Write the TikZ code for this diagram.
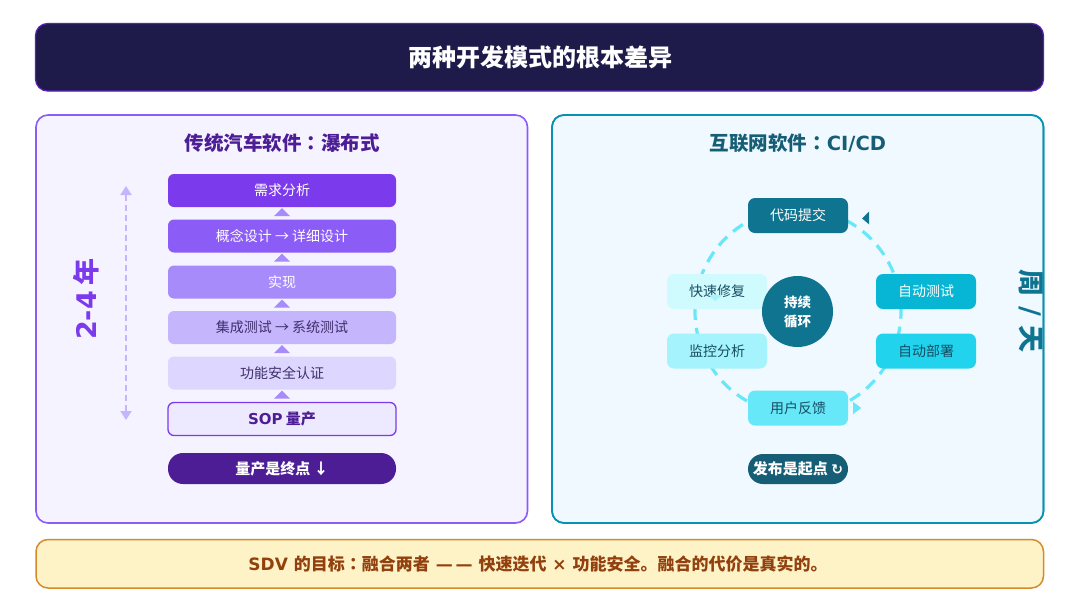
\documentclass[tikz,border=0pt]{standalone}
\usepackage{fontspec}
\setmainfont{Noto Sans CJK SC}
\newfontfamily\symfont{DejaVu Sans}
\newfontfamily\lat{DejaVu Sans}
\newfontfamily\jpfont{Noto Sans CJK JP}
\usetikzlibrary{arrows.meta,positioning}

\definecolor{navy}{HTML}{1E1B4B}
\definecolor{navyline}{HTML}{5B21B6}
\definecolor{vio1}{HTML}{7C3AED}
\definecolor{vio2}{HTML}{8B5CF6}
\definecolor{vio3}{HTML}{A78BFA}
\definecolor{vio4}{HTML}{C4B5FD}
\definecolor{vio5}{HTML}{DDD6FE}
\definecolor{vio6}{HTML}{EDE9FE}
\definecolor{viodark}{HTML}{4C1D95}
\definecolor{viotext}{HTML}{3F2F6B}
\definecolor{lavbg}{HTML}{F5F3FF}
\definecolor{skybg}{HTML}{F0F9FF}
\definecolor{tealline}{HTML}{0891B2}
\definecolor{teal1}{HTML}{0E7490}
\definecolor{teal2}{HTML}{06B6D4}
\definecolor{teal3}{HTML}{22D3EE}
\definecolor{teal4}{HTML}{67E8F9}
\definecolor{teal5}{HTML}{A5F3FC}
\definecolor{teal6}{HTML}{CFFAFE}
\definecolor{tealdark}{HTML}{155E75}
\definecolor{tealtext}{HTML}{164E63}
\definecolor{amberbg}{HTML}{FEF3C7}
\definecolor{amberline}{HTML}{D58B2C}
\definecolor{ambertext}{HTML}{92400E}

\begin{document}
\begin{tikzpicture}[x=1pt,y=-1pt,
    panel/.style={rounded corners=12pt, line width=1.6pt},
    wfbox/.style={rounded corners=6pt, minimum width=228pt, minimum height=33pt, inner sep=0pt, font=\fontsize{14}{16}\selectfont},
    cdbox/.style={rounded corners=7pt, minimum width=100pt, minimum height=35pt, inner sep=0pt, font=\fontsize{14}{16}\selectfont, text=tealtext},
    pill/.style={rounded corners=15pt, minimum width=228pt, minimum height=31pt, inner sep=0pt, text=white, font=\bfseries\fontsize{15}{17}\selectfont},
    uptri/.style={fill=vio3},
    ring/.style={teal4, line width=3.2pt, dash pattern=on 12pt off 8pt}
  ]
  \useasboundingbox (0,0) rectangle (1080,600);
  \fill[white] (0,0) rectangle (1080,600);

  % title bar
  \draw[rounded corners=12pt, fill=navy, draw=navyline, line width=1.2pt] (35.5,23.5) rectangle (1043.5,91);
  \node[text=white, font=\bfseries\fontsize{24}{26}\selectfont] (title) at (540,57) {两种开发模式的根本差异};

  % left panel: waterfall
  \draw[panel, fill=lavbg, draw=vio2] (36,115) rectangle (527.5,523);
  \node[text=viodark, font=\bfseries\fontsize{19.5}{21}\selectfont] (ltitle) at (282,143) {传统汽车软件{\jpfont ：}瀑布式};

  \node[wfbox, fill=vio1, text=white] (req) at (282,190.5) {需求分析};
  \node[wfbox, fill=vio2, text=white] (design) at (282,236) {概念设计 → 详细设计};
  \node[wfbox, fill=vio3, text=white] (impl) at (282,282) {实现};
  \node[wfbox, fill=vio4, text=viotext] (test) at (282,327.5) {集成测试 → 系统测试};
  \node[wfbox, fill=vio5, text=viotext] (safety) at (282,373) {功能安全认证};
  \node[wfbox, fill=vio6, draw=vio1, line width=1.3pt, text=viodark, font=\bfseries\fontsize{15}{17}\selectfont] (sop) at (282,419) {{\lat SOP} 量产};
  \node[pill, fill=viodark] (endpt) at (282,468.5) {量产是终点 ↓};

  % little up arrows between stages
  \foreach \a/\b in {req/design, design/impl, impl/test, test/safety, safety/sop}
    \fill[uptri] ([xshift=-8pt,yshift=-9pt]\a.south) -- ([yshift=-1pt]\a.south) -- ([xshift=8pt,yshift=-9pt]\a.south) -- cycle;

  % duration arrow
  \coordinate (durtop) at (126,186);
  \coordinate (durbot) at (126,420);
  \draw[vio4, line width=1.8pt, dash pattern=on 6pt off 4pt, {Triangle[width=11pt,length=9pt]}-{Triangle[width=11pt,length=9pt]}] (durtop) -- (durbot);
  \node[rotate=90, text=vio1, font=\bfseries\fontsize{27}{29}\selectfont] (years) at (86,299) {{\lat 2-4} 年};

  % right panel: CI/CD
  \draw[panel, fill=skybg, draw=tealline] (552,115) rectangle (1043.5,523);
  \node[text=tealdark, font=\bfseries\fontsize{19.5}{21}\selectfont] (rtitle) at (798,143) {互联网软件{\jpfont ：}{\lat CI/CD}};

  \draw[ring] (798,311.5) circle (103pt);

  \node[cdbox, fill=teal1, text=white] (commit) at (798,215.5) {代码提交};
  \node[cdbox, fill=teal2, text=white] (autotest) at (926,291.5) {自动测试};
  \node[cdbox, fill=teal3] (deploy) at (926,351) {自动部署};
  \node[cdbox, fill=teal4] (feedback) at (798,408) {用户反馈};
  \node[cdbox, fill=teal5] (monitor) at (717,351) {监控分析};
  \node[cdbox, fill=teal6] (fix) at (717,291.5) {快速修复};

  \node[circle, fill=teal1, minimum size=71pt, inner sep=0pt, text=white, align=center, font=\bfseries\fontsize{13.5}{19}\selectfont] (loop) at (797.5,311.5) {持续\\循环};

  % cycle arrow tips
  \fill[teal1] ([xshift=21pt,yshift=-9pt]commit.east) -- ([xshift=14pt,yshift=-3pt]commit.east) -- ([xshift=21pt,yshift=4pt]commit.east) -- cycle;
  \fill[teal2] ([xshift=-6pt]autotest.south) -- ([xshift=2pt,yshift=7pt]autotest.south) -- ([xshift=9pt]autotest.south) -- cycle;
  \fill[teal4] ([xshift=5pt,yshift=-6pt]feedback.east) -- ([xshift=13pt]feedback.east) -- ([xshift=5pt,yshift=6pt]feedback.east) -- cycle;
  \fill[teal5] ([xshift=-8pt,yshift=14pt]fix.south) -- ([xshift=-2pt,yshift=8pt]fix.south) -- ([xshift=5pt,yshift=14pt]fix.south) -- cycle;

  \node[rounded corners=15pt, fill=tealdark, minimum width=100pt, minimum height=30pt, inner sep=0pt, text=white, font=\bfseries\fontsize{15}{17}\selectfont] (startpt) at (798,469) {发布是起点 {\symfont\fontsize{14}{16}\selectfont ↻}};

  \begin{scope}
    \clip[rounded corners=12pt] (552,115) rectangle (1043.5,523);
    \node[rotate=-90, text=teal1, font=\bfseries\fontsize{27}{29}\selectfont] (period) at (1031,311) {周{\lat\ / }天};
  \end{scope}
  \draw[panel, draw=tealline] (552,115) rectangle (1043.5,523);

  % bottom banner
  \draw[rounded corners=12pt, fill=amberbg, draw=amberline, line width=1.5pt] (36,539.5) rectangle (1043.5,588);
  \node[text=ambertext, font=\bfseries\fontsize{17}{19}\selectfont] (goal) at (538,564) {{\lat SDV }的目标{\jpfont ：}融合两者{\lat\ —\,—\ }快速迭代{\lat\ ×\ }功能安全。融合的代价是真实的。};
\end{tikzpicture}
\end{document}
